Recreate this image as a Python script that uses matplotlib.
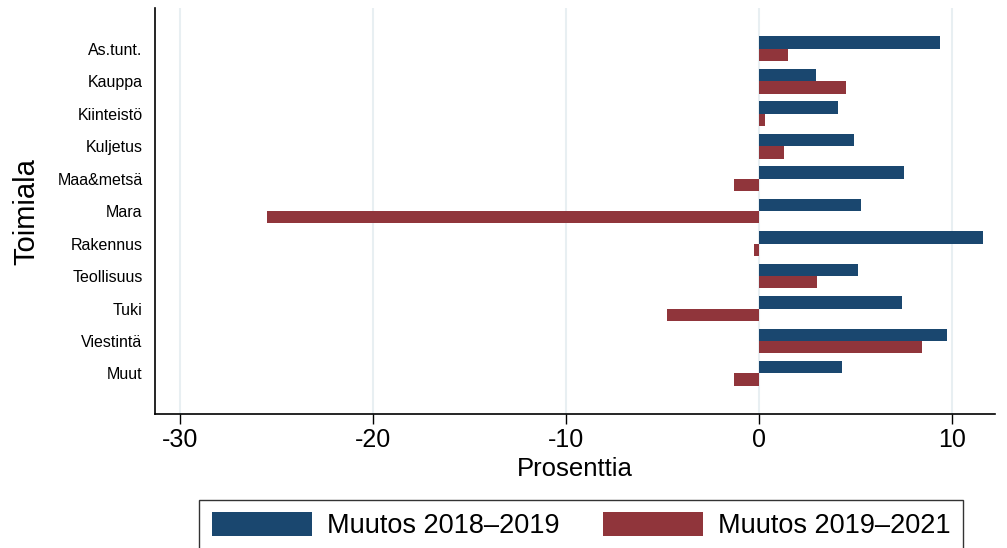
import matplotlib.pyplot as plt
import numpy as np

plt.rcParams['font.family'] = ['Liberation Sans', 'DejaVu Sans']
plt.rcParams['axes.unicode_minus'] = False

# data
toimialat = ['As.tunt.', 'Kauppa', 'Kiinteistö', 'Kuljetus', 'Maa&metsä', 'Mara',
             'Rakennus', 'Teollisuus', 'Tuki', 'Viestintä', 'Muut']
muutos_18_19 = [9.35, 2.95, 4.05, 4.9, 7.5, 5.25, 11.6, 5.1, 7.4, 9.7, 4.3]
muutos_19_21 = [1.5, 4.5, 0.3, 1.3, -1.3, -25.5, -0.3, 3.0, -4.8, 8.4, -1.3]
sarjat = ['Muutos 2018–2019', 'Muutos 2019–2021']

blue = '#1a476f'
red = '#90353b'

fig = plt.figure(figsize=(10.07, 5.48), dpi=100)
ax = fig.add_axes([0.154, 0.2445, 0.834, 0.7405])

y = np.arange(len(toimialat))
h = 0.38
ax.barh(y - h / 2, muutos_18_19, height=h, color=blue, label=sarjat[0], zorder=3)
ax.barh(y + h / 2, muutos_19_21, height=h, color=red, label=sarjat[1], zorder=3)

ax.set_ylim(10 + 1.25, -1.25)
ax.set_xlim(-31.3, 12.2)
ax.set_xticks([-30, -20, -10, 0, 10])
ax.set_yticks(y)
ax.set_yticklabels(toimialat, fontsize=11.5)
ax.tick_params(axis='x', labelsize=18, length=7, width=1, direction='out', pad=3)
ax.tick_params(axis='y', length=0, pad=9)

ax.grid(axis='x', color='#e8eff2', linewidth=1.5, zorder=0)
for s in ['top', 'right']:
    ax.spines[s].set_visible(False)
for s in ['left', 'bottom']:
    ax.spines[s].set_linewidth(1.2)

ax.set_xlabel('Prosenttia', fontsize=18.5, labelpad=4)
ax.set_ylabel('Toimiala', fontsize=21, labelpad=12)

leg = fig.legend(loc='upper center', bbox_to_anchor=(581 / 1007, 48 / 548), ncol=2,
                 fontsize=19.5, frameon=True, fancybox=False, edgecolor='black',
                 handlelength=3.7, handleheight=0.96, columnspacing=1.6,
                 borderpad=0.45, handletextpad=0.55, borderaxespad=0)
leg.get_frame().set_linewidth(1.0)

fig.savefig('out.png', dpi=100)
